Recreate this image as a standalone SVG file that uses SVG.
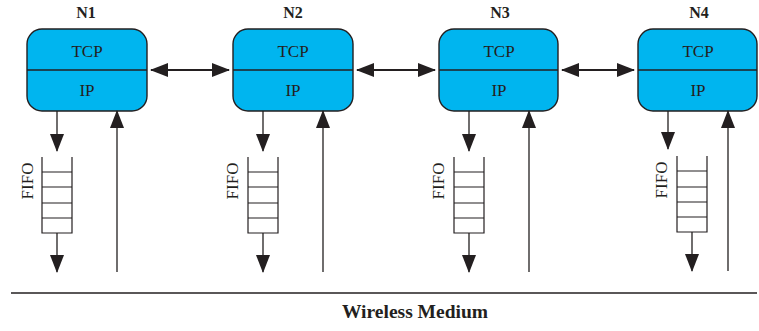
<svg xmlns="http://www.w3.org/2000/svg" width="759" height="331" viewBox="0 0 759 331">
  <style>
    .box { fill: #00B5EF; stroke: #231F20; stroke-width: 1.4; }
    .div { stroke: #231F20; stroke-width: 1.4; }
    .lbl { font-family: "Liberation Serif", "Times New Roman", serif; font-size: 17px; fill: #231F20; text-anchor: middle; }
    .name { font-family: "Liberation Serif", "Times New Roman", serif; font-size: 16px; font-weight: bold; fill: #231F20; text-anchor: middle; }
    .fifo { fill: none; stroke: #231F20; stroke-width: 1.2; }
    .wire { stroke: #231F20; stroke-width: 1.3; fill: none; }
    .arr { marker-end: url(#head); }
    .dbl { marker-start: url(#head); marker-end: url(#head); stroke-width: 2; }
  </style>
  <defs>
    <marker id="head" markerUnits="userSpaceOnUse" markerWidth="18" markerHeight="14" refX="17" refY="7" orient="auto-start-reverse">
      <path d="M0,0 L18,7 L0,14 Z" fill="#231F20"/>
    </marker>
  </defs>

  <!-- nodes -->
  <g id="N1">
    <text class="name" x="86" y="18">N1</text>
    <rect class="box" x="27" y="29" width="120" height="82" rx="15"/>
    <line class="div" x1="27" y1="70" x2="147" y2="70"/>
    <text class="lbl" x="87" y="57">TCP</text>
    <text class="lbl" x="87" y="96">IP</text>
  </g>
  <g id="N2">
    <text class="name" x="293" y="18">N2</text>
    <rect class="box" x="233" y="29" width="120" height="82" rx="15"/>
    <line class="div" x1="233" y1="70" x2="353" y2="70"/>
    <text class="lbl" x="293" y="57">TCP</text>
    <text class="lbl" x="293" y="96">IP</text>
  </g>
  <g id="N3">
    <text class="name" x="500" y="18">N3</text>
    <rect class="box" x="439" y="29" width="119" height="82" rx="15"/>
    <line class="div" x1="439" y1="70" x2="558" y2="70"/>
    <text class="lbl" x="499" y="57">TCP</text>
    <text class="lbl" x="499" y="96">IP</text>
  </g>
  <g id="N4">
    <text class="name" x="699" y="18">N4</text>
    <rect class="box" x="638" y="29" width="119" height="82" rx="15"/>
    <line class="div" x1="638" y1="70" x2="757" y2="70"/>
    <text class="lbl" x="698" y="57">TCP</text>
    <text class="lbl" x="698" y="96">IP</text>
  </g>

  <!-- FIFO queues -->
  <g id="FIFO1">
    <path class="fifo" d="M42,157 V233 H72 V157 M42,172 H72 M42,187 H72 M42,203 H72 M42,218 H72"/>
    <text class="lbl" transform="translate(33,181) rotate(-90)" x="0" y="0">FIFO</text>
  </g>
  <g id="FIFO2">
    <path class="fifo" d="M248,157 V233 H278 V157 M248,172 H278 M248,187 H278 M248,203 H278 M248,218 H278"/>
    <text class="lbl" transform="translate(238,181) rotate(-90)" x="0" y="0">FIFO</text>
  </g>
  <g id="FIFO3">
    <path class="fifo" d="M454,157 V233 H484 V157 M454,172 H484 M454,187 H484 M454,203 H484 M454,218 H484"/>
    <text class="lbl" transform="translate(444,181) rotate(-90)" x="0" y="0">FIFO</text>
  </g>
  <g id="FIFO4">
    <path class="fifo" d="M677,156 V232 H707 V156 M677,171 H707 M677,187 H707 M677,202 H707 M677,217 H707"/>
    <text class="lbl" transform="translate(667,180) rotate(-90)" x="0" y="0">FIFO</text>
  </g>

  <!-- connectors -->
  <g id="connectors">
    <line class="wire dbl" x1="151" y1="70" x2="229" y2="70"/>
    <line class="wire dbl" x1="357" y1="70" x2="435" y2="70"/>
    <line class="wire dbl" x1="562" y1="70" x2="634" y2="70"/>

    <line class="wire arr" x1="57" y1="111" x2="57" y2="151"/>
    <line class="wire arr" x1="57" y1="233" x2="57" y2="272"/>
    <line class="wire arr" x1="117" y1="272" x2="117" y2="111"/>

    <line class="wire arr" x1="263" y1="111" x2="263" y2="151"/>
    <line class="wire arr" x1="263" y1="233" x2="263" y2="272"/>
    <line class="wire arr" x1="323" y1="272" x2="323" y2="111"/>

    <line class="wire arr" x1="469" y1="111" x2="469" y2="151"/>
    <line class="wire arr" x1="469" y1="233" x2="469" y2="272"/>
    <line class="wire arr" x1="529" y1="272" x2="529" y2="111"/>

    <line class="wire arr" x1="668" y1="111" x2="668" y2="149"/>
    <line class="wire arr" x1="692" y1="232" x2="692" y2="271"/>
    <line class="wire arr" x1="728" y1="271" x2="728" y2="111"/>
  </g>

  <!-- shared medium -->
  <g id="medium">
    <line class="wire" x1="11" y1="293" x2="757" y2="293"/>
    <text class="name" x="415" y="318" style="font-size:19.5px">Wireless Medium</text>
  </g>
</svg>
